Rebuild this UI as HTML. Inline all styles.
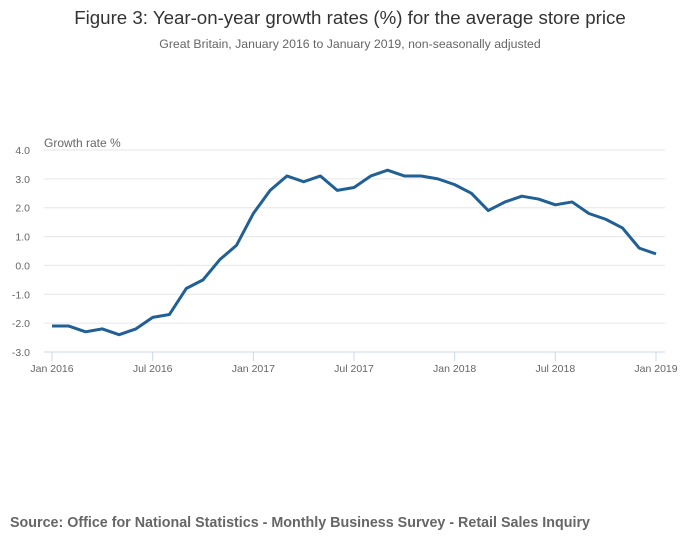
<!DOCTYPE html>
<html><head><meta charset="utf-8"><style>
body{margin:0;width:700px;height:549px;background:#fff;font-family:"Liberation Sans",sans-serif;overflow:hidden}
</style></head><body>
<svg width="700" height="549">
<text x="350" y="24" text-anchor="middle" font-size="18.7" fill="#333">Figure 3: Year-on-year growth rates (%) for the average store price</text>
<text x="350" y="48" text-anchor="middle" font-size="12.3" fill="#666">Great Britain, January 2016 to January 2019, non-seasonally adjusted</text>
<text x="44" y="147" font-size="12" fill="#666">Growth rate %</text>
<g id="grid"></g><g id="xaxis"></g><g id="plot"></g>
<text x="10" y="527" font-size="14.3" font-weight="bold" fill="#666">Source: Office for National Statistics - Monthly Business Survey - Retail Sales Inquiry</text>
</svg>
<script>
const values=[-2.1,-2.1,-2.3,-2.2,-2.4,-2.2,-1.8,-1.7,-0.8,-0.5,0.2,0.7,1.8,2.6,3.1,2.9,3.1,2.6,2.7,3.1,3.3,3.1,3.1,3.0,2.8,2.5,1.9,2.2,2.4,2.3,2.1,2.2,1.8,1.6,1.3,0.6,0.4];
const yTicks=[4,3,2,1,0,-1,-2,-3];
const xTickLabels=["Jan 2016","Jul 2016","Jan 2017","Jul 2017","Jan 2018","Jul 2018","Jan 2019"];
const xTickIdx=[0,6,12,18,24,30,36];
const NS="http://www.w3.org/2000/svg";
const x=i=>52+i*(656-52)/36;
const y=v=>150+(4-v)*(352-150)/7;
function mk(t,a,p){const e=document.createElementNS(NS,t);for(const k in a)e.setAttribute(k,a[k]);p.appendChild(e);return e;}
const grid=document.getElementById('grid'),xa=document.getElementById('xaxis'),plot=document.getElementById('plot');
yTicks.forEach(v=>{
 const l=mk('line',{x1:44,x2:665,y1:y(v),y2:y(v),stroke:v===-3?'#ccd6eb':'#e6e6e6','stroke-width':1},grid);
 
 
 const t=mk('text',{x:30,y:y(v)+4,'text-anchor':'end','font-size':10.5,fill:'#666'},grid);
 t.textContent=v.toFixed(1);
 
 
});
xTickIdx.forEach((i,k)=>{
 const l=mk('line',{x1:x(i),x2:x(i),y1:352,y2:361,stroke:'#ccd6eb'},xa);
 
 
 const t=mk('text',{x:x(i),y:372,'text-anchor':'middle','font-size':10.5,fill:'#666'},xa);
 t.textContent=xTickLabels[k];
 
 
});
const p=mk('polyline',{points:values.map((v,i)=>x(i)+','+y(v)).join(' '),fill:'none',stroke:'#206095','stroke-width':3,'stroke-linejoin':'round'},plot);


</script>
</body></html>
